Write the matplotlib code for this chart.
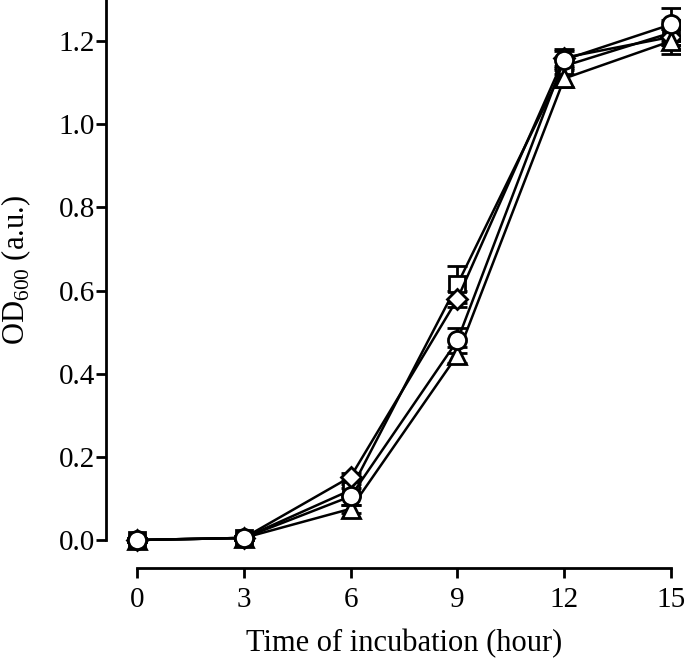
import matplotlib
matplotlib.use("Agg")
import matplotlib.pyplot as plt

plt.rcParams['font.family'] = ['Liberation Serif', 'DejaVu Serif']
plt.rcParams['mathtext.fontset'] = 'custom'
plt.rcParams['mathtext.rm'] = 'Liberation Serif'

time = [0, 3, 6, 9, 12, 15]
square = [0.0, 0.005, 0.12, 0.615, 1.14, 1.22]
square_err = [0.005, 0.005, 0.015, 0.045, 0.02, 0.03]
diamond = [0.0, 0.005, 0.152, 0.58, 1.16, 1.21]
diamond_err = [0.005, 0.005, 0.01, 0.02, 0.02, 0.02]
triangle = [0.0, 0.005, 0.075, 0.445, 1.11, 1.20]
triangle_err = [0.005, 0.005, 0.01, 0.02, 0.02, 0.03]
circle = [0.0, 0.005, 0.105, 0.48, 1.155, 1.24]
circle_err = [0.005, 0.005, 0.02, 0.03, 0.02, 0.04]

xticks = [0, 3, 6, 9, 12, 15]
yticks = [0.0, 0.2, 0.4, 0.6, 0.8, 1.0, 1.2]

fig = plt.figure(figsize=(6.85, 6.61), dpi=100)
ax = fig.add_axes([106/685, 93/661, 574/685, 568/661])

series = [(square, square_err, 's', 12), (diamond, diamond_err, 'D', 10),
          (triangle, triangle_err, '^', 13), (circle, circle_err, 'o', 13)]
for vals, err, m, ms in series:
    ax.errorbar(time, vals, yerr=err, color='black', lw=1.8, marker=m, ms=ms,
                mfc='white', mec='black', mew=2, capsize=7, capthick=2, elinewidth=2)

ax.set_xlim(-0.87, 15.25)
ax.set_ylim(-0.0673, 1.2987)
ax.spines['top'].set_visible(False)
ax.spines['right'].set_visible(False)
ax.spines['left'].set_bounds(0, 1.3)
ax.spines['bottom'].set_bounds(0, 15)
for s in ['left', 'bottom']:
    ax.spines[s].set_linewidth(2)
ax.set_xticks(xticks)
ax.set_yticks(yticks)
ax.set_yticklabels([f"{v:.1f}" for v in yticks])
ax.tick_params(axis='both', direction='out', width=2, length=7, labelsize=21)
ax.tick_params(axis='y', pad=1)
ax.tick_params(axis='x', pad=7)
ax.set_xlabel('Time of incubation (hour)', fontsize=22)
ax.set_ylabel(r'OD$_{600}$ (a.u.)', fontsize=22)
ax.xaxis.set_label_coords(0.519, -0.107)
ax.yaxis.set_label_coords(-0.128, 0.525)

fig.savefig('out.png', dpi=100)
